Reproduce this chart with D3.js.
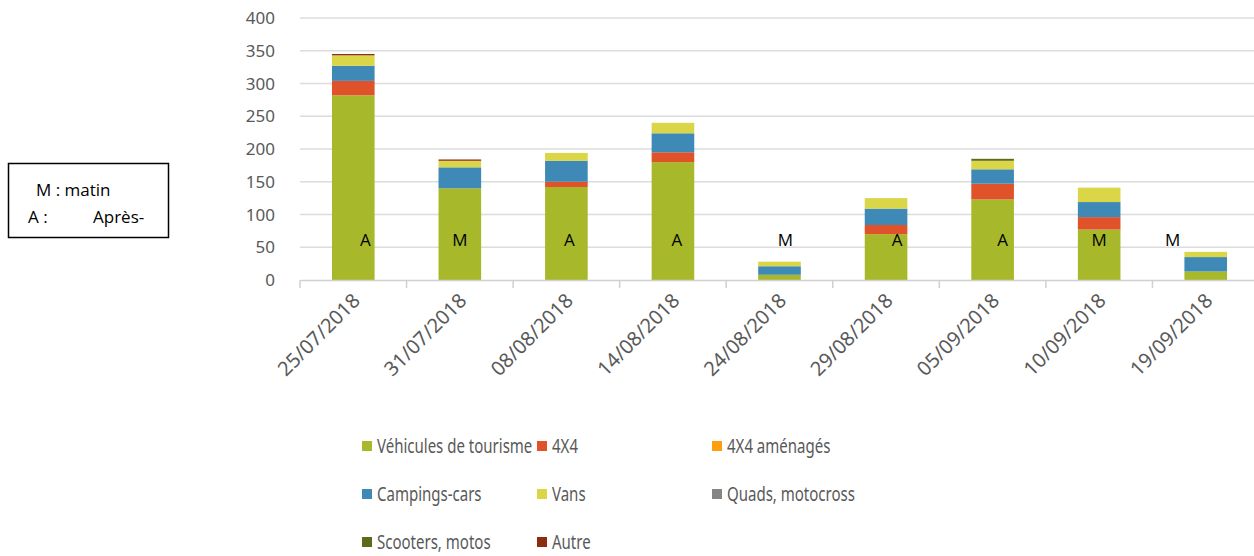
<!DOCTYPE html>
<html>
<head>
<meta charset="utf-8">
<script src="https://cdn.jsdelivr.net/npm/d3@7"></script>
<style>
  body { margin: 0; background: #fff; }
  svg { display: block; font-family: "Noto Sans", "Open Sans", sans-serif; }
</style>
</head>
<body>
<svg id="chart"></svg>
<script>
// dates of the counts
const dates = ["25/07/2018", "31/07/2018", "08/08/2018", "14/08/2018", "24/08/2018",
  "29/08/2018", "05/09/2018", "10/09/2018", "19/09/2018"];

// M = matin, A = après-midi
const periods = ["A", "M", "A", "A", "M", "A", "A", "M", "M"];

const seriesNames = ["Véhicules de tourisme", "4X4", "4X4 aménagés", "Campings-cars",
  "Vans", "Quads, motocross", "Scooters, motos", "Autre"];

const vehicules = [282, 140, 142, 180, 8, 70, 123, 77, 13];
const x4 = [22, 0, 8, 15, 0, 14, 24, 19, 0];
const x4Amenages = [0, 0, 0, 0, 0, 0, 0, 0, 0];
const campings = [23, 32, 32, 29, 13, 25, 22, 23, 22];
const vans = [16, 10, 12, 16, 7, 16, 13, 22, 8];
const quads = [0, 0, 0, 0, 0, 0, 0, 0, 0];
const scooters = [0, 0, 0, 0, 0, 0, 3, 0, 0];
const autre = [2, 2, 0, 0, 0, 0, 0, 0, 0];

const yTicks = [0, 50, 100, 150, 200, 250, 300, 350, 400];

const colors = ["#a7b82a", "#e0522a", "#ff9f0f", "#3e89b5", "#dbd548", "#858585", "#5c6b17", "#8c2d12"];

// where the M/A text boxes sit relative to the bar centre
const labelShift = [12, 0, 3, 4, 6, 11, 10, 0, -33];

const width = 1254, height = 556;
const svg = d3.select("#chart").attr("width", width).attr("height", height);

const allSeries = [vehicules, x4, x4Amenages, campings, vans, quads, scooters, autre];
const table = dates.map((d, i) => {
  const row = { date: d };
  seriesNames.forEach((s, j) => { row[s] = allSeries[j][i]; });
  return row;
});

const x = d3.scaleBand()
  .domain(dates)
  .range([300, 1259])
  .paddingInner(0.6)
  .paddingOuter(0.3);

const y = d3.scaleLinear()
  .domain([0, 400])
  .range([280, 18]);

// gridlines
svg.append("g")
  .selectAll("line")
  .data(yTicks.filter(t => t > 0))
  .enter()
  .append("line")
  .attr("x1", 300).attr("x2", 1254)
  .attr("y1", d => y(d)).attr("y2", d => y(d))
  .attr("stroke", "#dcdcdc")
  .attr("stroke-width", 1.5);

// y labels
svg.append("g")
  .selectAll("text")
  .data(yTicks)
  .enter()
  .append("text")
  .attr("x", 275)
  .attr("y", d => y(d) + 6)
  .attr("text-anchor", "end")
  .attr("font-size", 17)
  .attr("fill", "#595959")
  .text(d => d);

// stacked bars
const stack = d3.stack().keys(seriesNames);
const layers = stack(table);

svg.append("g")
  .selectAll("g")
  .data(layers)
  .enter()
  .append("g")
  .attr("fill", (d, i) => colors[i])
  .selectAll("rect")
  .data(d => d)
  .enter()
  .append("rect")
  .attr("x", d => x(d.data.date))
  .attr("width", x.bandwidth())
  .attr("y", d => y(d[1]))
  .attr("height", d => y(d[0]) - y(d[1]));

// x axis line and ticks
const xAxis = d3.axisBottom(x).tickSize(0).tickFormat("");
const axisG = svg.append("g").attr("transform", "translate(0,280)").call(xAxis);
axisG.select(".domain").attr("stroke", "#d0d0d0").attr("stroke-width", 1.5);

const step = x.step();
const bounds = d3.range(dates.length + 1).map(i => 300 + i * step);
svg.append("g")
  .selectAll("line")
  .data(bounds)
  .enter()
  .append("line")
  .attr("x1", d => d).attr("x2", d => d)
  .attr("y1", 280).attr("y2", 288)
  .attr("stroke", "#d0d0d0")
  .attr("stroke-width", 1.5);

// rotated dates
svg.append("g")
  .selectAll("text")
  .data(dates)
  .enter()
  .append("text")
  .attr("text-anchor", "end")
  .attr("font-size", 20)
  .attr("fill", "#595959")
  .attr("transform", d => `translate(${x(d) + x.bandwidth() / 2 + 8},302) rotate(-45)`)
  .text(d => d);

// M / A marks
svg.append("g")
  .selectAll("text")
  .data(periods)
  .enter()
  .append("text")
  .attr("x", (d, i) => x(dates[i]) + x.bandwidth() / 2 + labelShift[i])
  .attr("y", 246)
  .attr("text-anchor", "middle")
  .attr("font-family", "Open Sans, sans-serif")
  .attr("font-size", 17)
  .attr("fill", "#000")
  .text(d => d);

// legend
const legend = svg.append("g");
const legendItems = legend.selectAll("g")
  .data(seriesNames)
  .enter()
  .append("g")
  .attr("transform", (d, i) => `translate(${362 + (i % 3) * 175},${446 + Math.floor(i / 3) * 48})`);

legendItems.append("rect")
  .attr("x", 0).attr("y", -5)
  .attr("width", 10).attr("height", 10)
  .attr("fill", (d, i) => colors[i]);

// the legend font is a narrow one, squeeze it a bit
legendItems.append("text")
  .attr("transform", "translate(15,7) scale(0.77,1)")
  .attr("font-size", 19.5)
  .attr("fill", "#595959")
  .text(d => d);

// note box
const note = svg.append("g").attr("font-family", "Open Sans, sans-serif").attr("font-size", 17).attr("fill", "#000");
note.append("rect")
  .attr("x", 8.5).attr("y", 163.5)
  .attr("width", 160).attr("height", 74)
  .attr("fill", "#fff")
  .attr("stroke", "#000")
  .attr("stroke-width", 1.5);
note.append("text").attr("x", 36).attr("y", 196).text("M : matin");
note.append("text").attr("x", 28).attr("y", 223).text("A :");
note.append("text").attr("x", 93).attr("y", 223).text("Après-");
</script>
</body>
</html>
